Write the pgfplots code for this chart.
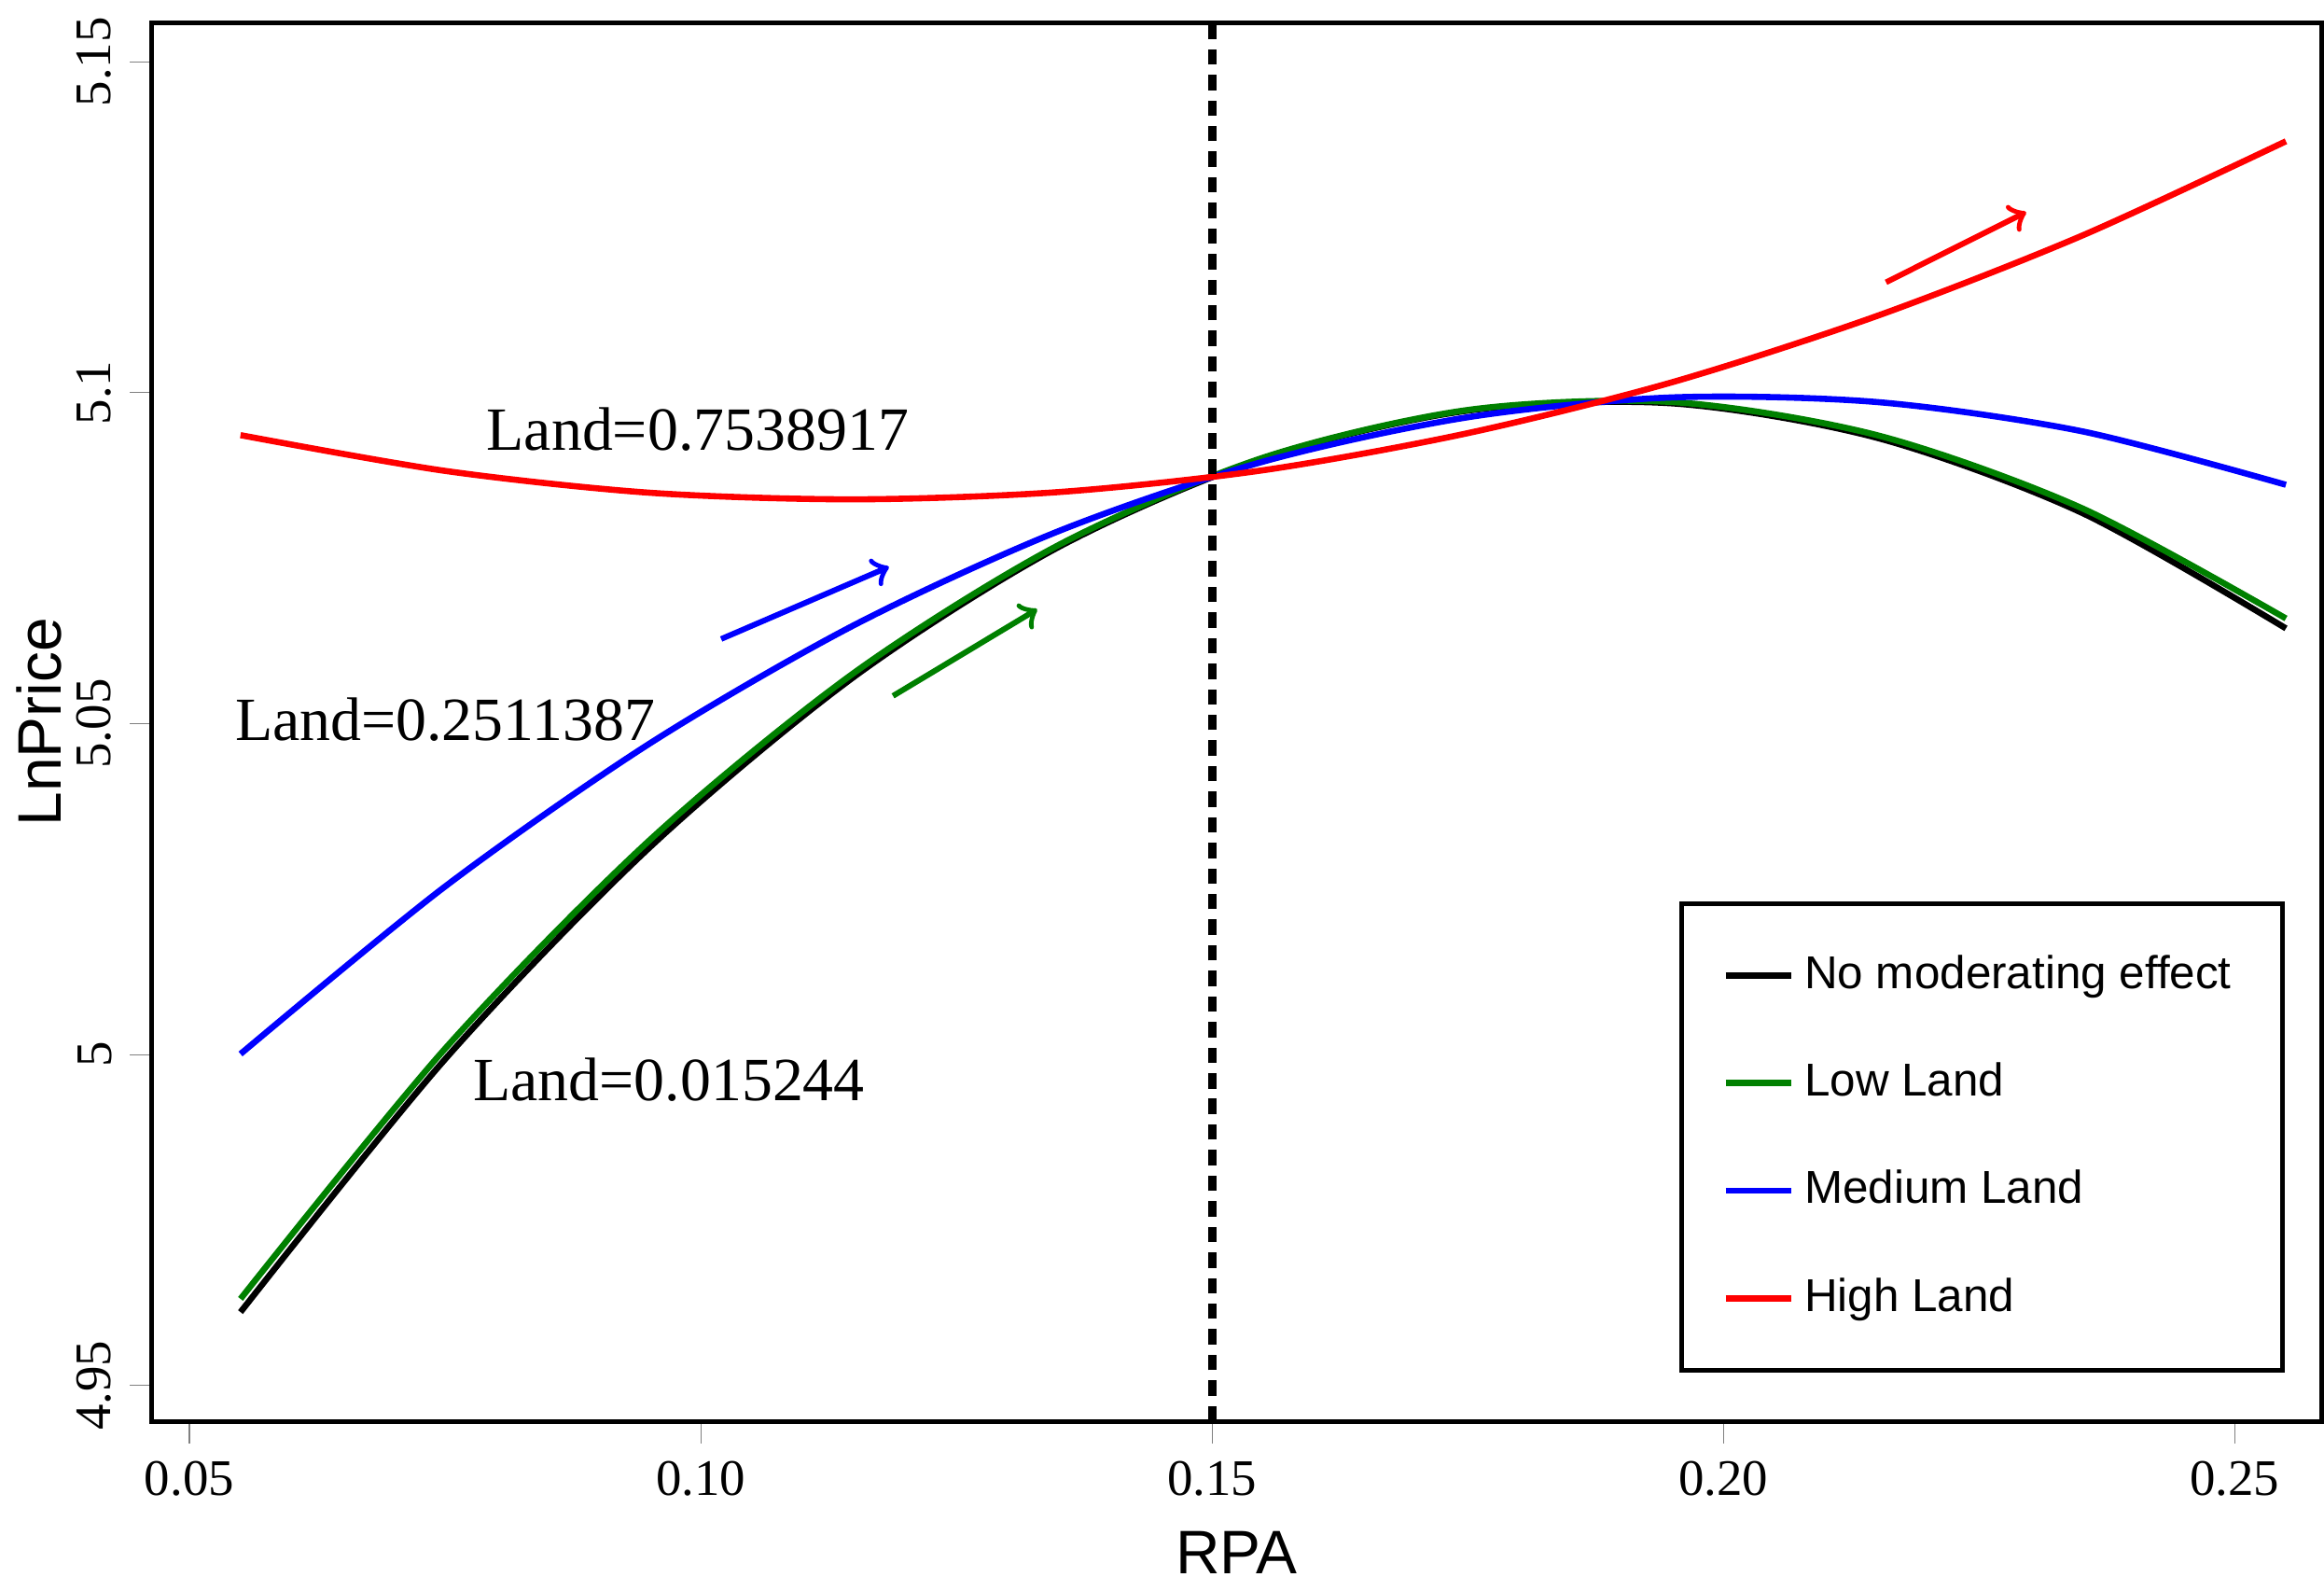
\documentclass[border=0pt]{standalone}
\usepackage{pgfplots}
\pgfplotsset{compat=1.18}
\usepackage{fontspec}
\setmainfont{Liberation Serif}
\newfontfamily\sansf{Liberation Sans}
\begin{document}
\begin{tikzpicture}
\begin{axis}[
  scale only axis, width=14.9cm, height=9.6cm,
  xmin=0.0463, xmax=0.2585, ymin=4.9446, ymax=5.1559,
  xtick={0.05,0.10,0.15,0.20,0.25},
  ytick={4.95,5,5.05,5.1,5.15},
  xticklabel style={/pgf/number format/fixed,/pgf/number format/fixed zerofill,/pgf/number format/precision=2},
  yticklabel style={rotate=90,anchor=south,/pgf/number format/fixed},
  /pgf/number format/assume math mode=true,
  tick label style={font=\normalsize},
  tick align=outside, xtick pos=bottom, ytick pos=left,
  xlabel={\sansf RPA}, ylabel={\sansf LnPrice},
  label style={font=\large},
  ylabel style={yshift=-4pt},
  axis line style={line width=0.9pt},
  legend style={at={(0.983,0.035)}, anchor=south east, font=\sansf\small, draw=black, line width=0.9pt, row sep=9pt, inner sep=8pt, cells={anchor=west}},
  legend image post style={line width=1.2pt},
  legend image code/.code={\draw[#1] (0cm,0cm) -- (0.45cm,0cm);},
]
\addplot[black, line width=1.2pt, smooth] coordinates {(0.055,4.9611)(0.075,4.9993)(0.095,5.0313)(0.115,5.0571)(0.135,5.0767)(0.155,5.0901)(0.175,5.0973)(0.195,5.0984)(0.215,5.0932)(0.235,5.0819)(0.255,5.0644)};
\addlegendentry{No moderating effect}
\addplot[green!50!black, line width=1.2pt, smooth] coordinates {(0.055,4.9631)(0.075,5.0009)(0.095,5.0324)(0.115,5.0577)(0.135,5.0770)(0.155,5.0902)(0.175,5.0974)(0.195,5.0986)(0.215,5.0936)(0.235,5.0826)(0.255,5.0659)};
\addlegendentry{Low Land}
\addplot[blue, line width=1.2pt, smooth] coordinates {(0.055,5.0001)(0.075,5.0254)(0.095,5.0470)(0.115,5.0649)(0.135,5.0791)(0.155,5.0896)(0.175,5.0963)(0.195,5.0993)(0.215,5.0986)(0.235,5.0942)(0.255,5.0861)};
\addlegendentry{Medium Land}
\addplot[red, line width=1.2pt, smooth] coordinates {(0.055,5.0936)(0.075,5.0882)(0.095,5.0849)(0.115,5.0839)(0.135,5.0850)(0.155,5.0883)(0.175,5.0939)(0.195,5.1016)(0.215,5.1116)(0.235,5.1237)(0.255,5.1380)};
\addlegendentry{High Land}
\draw[black, line width=1.6pt, dash pattern=on 3pt off 2pt] (axis cs:0.15,4.9446) -- (axis cs:0.15,5.1559);
\draw[blue, ->, line width=1.1pt] (axis cs:0.102,5.0628) -- (axis cs:0.1184,5.0737);
\draw[green!50!black, ->, line width=1.1pt] (axis cs:0.1188,5.0542) -- (axis cs:0.1329,5.0673);
\draw[red, ->, line width=1.1pt] (axis cs:0.2159,5.1167) -- (axis cs:0.2296,5.1273);
\node[font=\large] at (axis cs:0.0997,5.0945) {Land=0.7538917};
\node[font=\large] at (axis cs:0.075,5.0506) {Land=0.2511387};
\node[font=\large] at (axis cs:0.0969,4.9962) {Land=0.015244};
\end{axis}
\end{tikzpicture}
\end{document}
